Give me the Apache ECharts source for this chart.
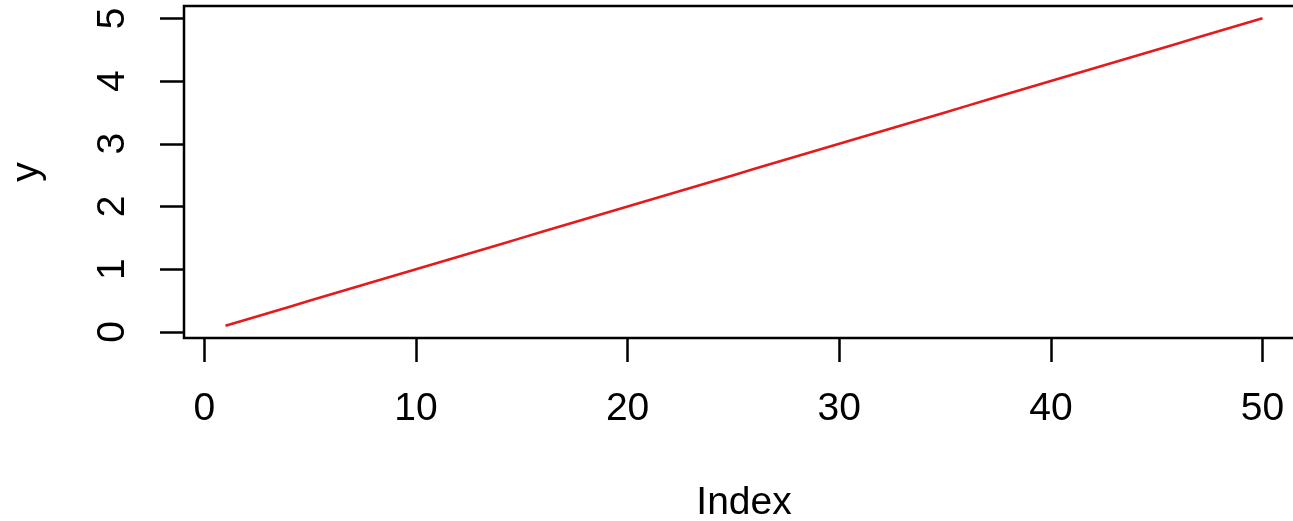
<!DOCTYPE html>
<html>
<head>
<meta charset="utf-8">
<script src="https://cdn.jsdelivr.net/npm/echarts@6/dist/echarts.min.js"></script>
<style>
html,body{margin:0;padding:0;background:#fff;}
#c{width:1293px;height:521px;}
</style>
</head>
<body>
<div id="c"></div>
<script>
const indexValues = [1,2,3,4,5,6,7,8,9,10,11,12,13,14,15,16,17,18,19,20,21,22,23,24,25,26,27,28,29,30,31,32,33,34,35,36,37,38,39,40,41,42,43,44,45,46,47,48,49,50];
const yValues = [0.1,0.2,0.3,0.4,0.5,0.6,0.7,0.8,0.9,1.0,1.1,1.2,1.3,1.4,1.5,1.6,1.7,1.8,1.9,2.0,2.1,2.2,2.3,2.4,2.5,2.6,2.7,2.8,2.9,3.0,3.1,3.2,3.3,3.4,3.5,3.6,3.7,3.8,3.9,4.0,4.1,4.2,4.3,4.4,4.5,4.6,4.7,4.8,4.9,5.0];
const xTicks = [0,10,20,30,40,50];
const yTicks = [0,1,2,3,4,5];
const xRange = [-0.96, 51.96];
const yRange = [-0.096, 5.196];
const xTitle = 'Index';
const yTitle = 'y';

const font = 'Liberation Sans, Arial, Helvetica, sans-serif';
const chart = echarts.init(document.getElementById('c'), null, {renderer:'canvas'});
chart.setOption({
  animation:false,
  backgroundColor:'#ffffff',
  grid:{left:184, top:6, right:-11, bottom:183, show:true, borderColor:'#000', borderWidth:2.5, backgroundColor:'transparent', containLabel:false, outerBoundsMode:'none'},
  xAxis:{
    type:'value', min:xRange[0], max:xRange[1],
    name:xTitle, nameLocation:'middle', nameGap:165,
    nameTextStyle:{fontFamily:font, fontSize:39, color:'#000', verticalAlign:'middle', align:'center'},
    axisLine:{show:false, onZero:false},
    splitLine:{show:false},
    axisTick:{show:true, inside:false, length:24, customValues:xTicks, lineStyle:{color:'#000', width:2.5}},
    axisLabel:{show:true, customValues:xTicks, margin:71, verticalAlign:'middle', align:'center', fontFamily:font, fontSize:39, color:'#000'}
  },
  yAxis:{
    type:'value', min:yRange[0], max:yRange[1],
    name:yTitle, nameLocation:'middle', nameGap:157, nameRotate:90,
    nameTextStyle:{fontFamily:font, fontSize:39, color:'#000', verticalAlign:'middle', align:'center'},
    axisLine:{show:false, onZero:false},
    splitLine:{show:false},
    axisTick:{show:true, inside:false, length:24, customValues:yTicks, lineStyle:{color:'#000', width:2.5}},
    axisLabel:{show:true, customValues:yTicks, rotate:90, margin:71, verticalAlign:'middle', align:'center', fontFamily:font, fontSize:39, color:'#000'}
  },
  series:[{
    type:'line',
    data:indexValues.map((x,i)=>[x, yValues[i]]),
    showSymbol:false,
    lineStyle:{color:'#e41a1c', width:2.6},
    itemStyle:{color:'#e41a1c'}
  }]
});
</script>
</body>
</html>
